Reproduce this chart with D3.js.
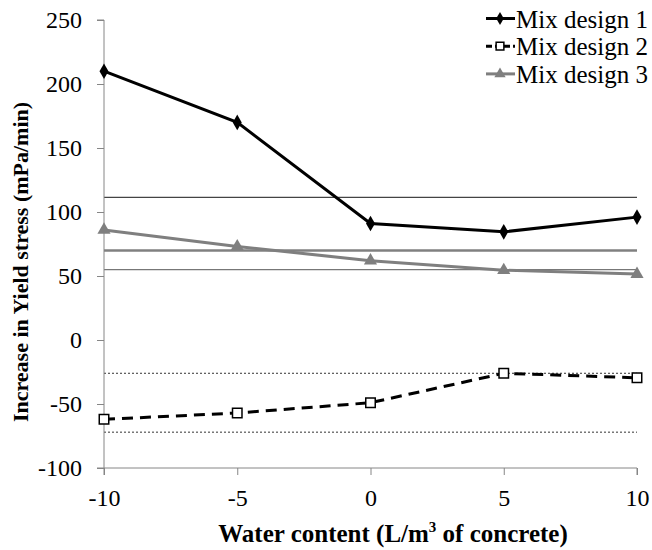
<!DOCTYPE html>
<html>
<head>
<meta charset="utf-8">
<script src="https://cdn.jsdelivr.net/npm/d3@7"></script>
<style>
  body { margin: 0; background: #fff; }
  svg { display: block; }
</style>
</head>
<body>
<svg id="chart" width="652" height="550"></svg>
<script>
// Water content steps (L/m3 of concrete)
const waterContent = [-10, -5, 0, 5, 10];

// Increase in yield stress (mPa/min) per mix design
const mix1 = [210, 170, 91, 84.5, 96];
const mix2 = [-62, -57, -49, -26, -29.5];
const mix3 = [86, 73, 62, 54.5, 51.5];

const seriesNames = ["Mix design 1", "Mix design 2", "Mix design 3"];

// Reference levels drawn across the plot
const refSolidDark = [111.5];
const refSolidGray = [70];
const refSolidLight = [55];
const refDotted = [-26, -72];

const xTicks = [-10, -5, 0, 5, 10];
const yTicks = [-100, -50, 0, 50, 100, 150, 200, 250];

const FONT = "Liberation Serif";
const svg = d3.select("#chart");
const plotL = 104, plotR = 637, plotT = 20, plotB = 468;

const x = d3.scaleLinear().domain([-10, 10]).range([plotL, plotR]);
const y = d3.scaleLinear().domain([-100, 250]).range([plotB, plotT]);

const axisColor = "#868686";

// Reference lines
const refG = svg.append("g");
function hlines(vals, stroke, width, dash) {
  refG.selectAll(null).data(vals).enter().append("line")
    .attr("x1", plotL).attr("x2", plotR)
    .attr("y1", d => y(d)).attr("y2", d => y(d))
    .attr("stroke", stroke).attr("stroke-width", width)
    .attr("stroke-dasharray", dash || null);
}
hlines(refSolidDark, "#444", 1.2);
hlines(refSolidGray, "#808080", 2.5);
hlines(refSolidLight, "#777", 1.2);
hlines(refDotted, "#333", 1, "2,2");

// Axes (plain hyphen for negatives)
const fmt = d => String(d);
const yAxis = d3.axisLeft(y).tickValues(yTicks).tickSize(7).tickPadding(15).tickFormat(fmt);
const yg = svg.append("g").attr("transform", `translate(${plotL},0)`).call(yAxis)
  .attr("font-family", FONT).attr("font-size", 24);
yg.select(".domain").attr("stroke", axisColor).attr("d", `M-7,${plotB}H0V${plotT}H-7`);
yg.selectAll(".tick line").attr("stroke", axisColor);
yg.selectAll(".tick text").style("font-family", FONT).style("font-size", "24px").attr("fill", "#000");

const xAxis = d3.axisBottom(x).tickValues(xTicks).tickSize(7).tickPadding(14).tickFormat(fmt);
const xg = svg.append("g").attr("transform", `translate(0,${plotB})`).call(xAxis)
  .attr("font-family", FONT).attr("font-size", 24);
xg.select(".domain").attr("stroke", axisColor).attr("d", `M${plotL},7V0H${plotR}V7`);
xg.selectAll(".tick line").attr("stroke", axisColor);
xg.selectAll(".tick text").style("font-family", FONT).style("font-size", "24px").attr("fill", "#000");

// Series
const line = d3.line().x((d, i) => x(waterContent[i])).y(d => y(d));

const diamond = d3.symbol().type(d3.symbolDiamond).size(70);
const triangle = d3.symbol().type(d3.symbolTriangle).size(75);
const square = d3.symbol().type(d3.symbolSquare).size(90);

// Mix design 3 (gray, triangles)
svg.append("path").datum(mix3).attr("d", line)
  .attr("fill", "none").attr("stroke", "#7f7f7f").attr("stroke-width", 3);
svg.selectAll(".m3").data(mix3).enter().append("path")
  .attr("transform", (d, i) => `translate(${x(waterContent[i])},${y(d)})`)
  .attr("d", triangle).attr("fill", "#7f7f7f");

// Mix design 1 (black, diamonds)
svg.append("path").datum(mix1).attr("d", line)
  .attr("fill", "none").attr("stroke", "#000").attr("stroke-width", 3);
svg.selectAll(".m1").data(mix1).enter().append("path")
  .attr("transform", (d, i) => `translate(${x(waterContent[i])},${y(d)})`)
  .attr("d", diamond).attr("fill", "#000");

// Mix design 2 (dashed black, open squares)
svg.append("path").datum(mix2).attr("d", line)
  .attr("fill", "none").attr("stroke", "#000").attr("stroke-width", 3)
  .attr("stroke-dasharray", "11,7");
svg.selectAll(".m2").data(mix2).enter().append("path")
  .attr("transform", (d, i) => `translate(${x(waterContent[i])},${y(d)})`)
  .attr("d", square).attr("fill", "#fff").attr("stroke", "#000").attr("stroke-width", 1.5);

// Legend
const legend = svg.append("g");
const legRows = [
  { name: seriesNames[0], color: "#000", dash: null, sym: d3.symbolDiamond, size: 50, fill: "#000", stroke: "none" },
  { name: seriesNames[1], color: "#000", dash: "6,3", sym: d3.symbolSquare, size: 60, fill: "#fff", stroke: "#000" },
  { name: seriesNames[2], color: "#7f7f7f", dash: null, sym: d3.symbolTriangle, size: 55, fill: "#7f7f7f", stroke: "none" }
];
legRows.forEach((r, i) => {
  const cy = 18.5 + i * 27.7;
  legend.append("line").attr("x1", 486).attr("x2", 515).attr("y1", cy).attr("y2", cy)
    .attr("stroke", r.color).attr("stroke-width", 3).attr("stroke-dasharray", r.dash);
  legend.append("path").attr("transform", `translate(500,${cy})`)
    .attr("d", d3.symbol().type(r.sym).size(r.size)()).attr("fill", r.fill)
    .attr("stroke", r.stroke).attr("stroke-width", 1.5);
  legend.append("text").attr("x", 516).attr("y", cy + 9)
    .style("font-family", FONT).style("font-size", "25px").text(r.name);
});

// Axis titles
svg.append("text")
  .attr("transform", `translate(28,262) rotate(-90)`)
  .attr("text-anchor", "middle")
  .style("font-family", FONT).style("font-size", "22px").style("font-weight", "bold")
  .text("Increase in Yield stress (mPa/min)");

const xt = svg.append("text")
  .attr("x", 393).attr("y", 542)
  .attr("text-anchor", "middle")
  .style("font-family", FONT).style("font-size", "25px").style("font-weight", "bold");
xt.append("tspan").text("Water content (L/m");
xt.append("tspan").style("font-size", "15px").attr("dy", -10).text("3");
xt.append("tspan").attr("dy", 10).text(" of concrete)");
</script>
</body>
</html>
